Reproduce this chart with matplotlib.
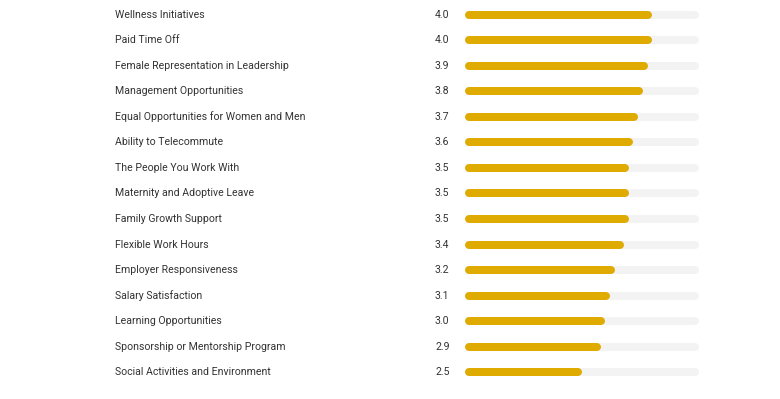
import matplotlib
matplotlib.use("Agg")
import matplotlib.pyplot as plt
import numpy as np

categories = [
    "Wellness Initiatives",
    "Paid Time Off",
    "Female Representation in Leadership",
    "Management Opportunities",
    "Equal Opportunities for Women and Men",
    "Ability to Telecommute",
    "The People You Work With",
    "Maternity and Adoptive Leave",
    "Family Growth Support",
    "Flexible Work Hours",
    "Employer Responsiveness",
    "Salary Satisfaction",
    "Learning Opportunities",
    "Sponsorship or Mentorship Program",
    "Social Activities and Environment",
]
scores = [4.0, 4.0, 3.9, 3.8, 3.7, 3.6, 3.5, 3.5, 3.5, 3.4, 3.2, 3.1, 3.0, 2.9, 2.5]
max_score = 5.0

W, H = 780, 399
fig = plt.figure(figsize=(W / 100, H / 100), dpi=100)
fig.patch.set_facecolor("white")

x0, x1 = 465, 699
ax = fig.add_axes([x0 / W, 0, (x1 - x0) / W, 1])
ax.set_xlim(0, max_score)
first, step = 14.5, 25.57
ax.set_ylim((H - first) / step, -first / step)
ax.axis("off")

bar_px = 8.0
lw = bar_px * 72 / 100
r = (bar_px / 2) / (x1 - x0) * max_score

gold = "#DFAB00"
track = "#F3F3F3"
txt = "#333333"
fs = 7.6

for i, (c, v) in enumerate(zip(categories, scores)):
    ax.plot([r, max_score - r], [i, i], color=track, lw=lw, solid_capstyle="round", zorder=1)
    ax.plot([r, v - r], [i, i], color=gold, lw=lw, solid_capstyle="round", zorder=2)
    ax.text((115 - x0) / (x1 - x0), i, c, transform=ax.get_yaxis_transform(),
            ha="left", va="center", fontsize=fs, family="Roboto", color=txt, clip_on=False)
    ax.text((435 - x0) / (x1 - x0), i, f"{v:.1f}", transform=ax.get_yaxis_transform(),
            ha="left", va="center", fontsize=fs, family="Roboto", color=txt, clip_on=False)

fig.savefig("out.png", dpi=100, facecolor="white")
